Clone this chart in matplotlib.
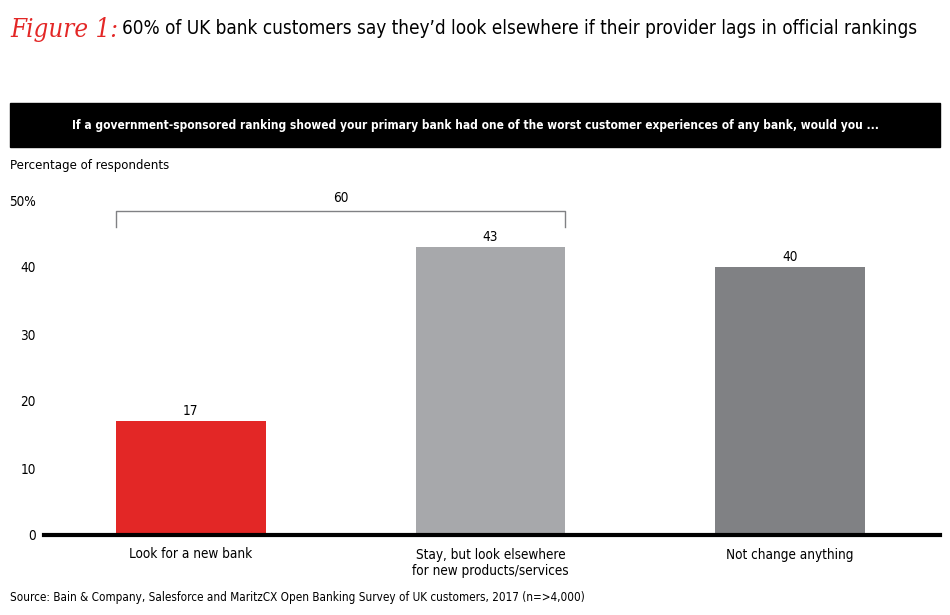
import matplotlib
matplotlib.use("Agg")
import matplotlib.pyplot as plt
from matplotlib.patches import Rectangle

plt.rcParams['font.family'] = ['DejaVu Sans']
plt.rcParams['font.stretch'] = 'condensed'

categories = ["Look for a new bank", "Stay, but look elsewhere\nfor new products/services", "Not change anything"]
values = [17, 43, 40]
colors = ["#E32726", "#A7A8AB", "#808184"]
yticks = [0, 10, 20, 30, 40, 50]
ytick_labels = ["0", "10", "20", "30", "40", "50%"]
bracket_total = 60

W, H = 950, 615
fig = plt.figure(figsize=(W/100, H/100), dpi=100)
renderer = fig.canvas.get_renderer()

def fx(px): return px / W
def fy(py): return 1 - py / H

def fit(t, target_px):
    w = t.get_window_extent(renderer).width
    t.set_fontsize(t.get_fontsize() * target_px / w)
    return t.get_fontsize()

ax = fig.add_axes([fx(44), fy(535), fx(940) - fx(44), fy(200) - fy(535)])
x = list(range(len(categories)))
ax.bar(x, values, width=0.5, color=colors, zorder=2)
ax.set_xlim(-0.49, 2.5)
ax.set_ylim(0, 50)
for s in ["top", "right", "left"]:
    ax.spines[s].set_visible(False)
ax.spines["bottom"].set_linewidth(3)
ax.spines["bottom"].set_color("black")
ax.set_yticks(yticks)
ax.set_xticks(x)

# measure body font size from a category label width
probe = fig.text(0, 0, "Not change anything", fontsize=11)
fs = fit(probe, 128)
probe.remove()

ax.set_yticklabels(ytick_labels, fontsize=fs)
ax.tick_params(axis="y", length=0, pad=6)
ax.tick_params(axis="x", length=0, pad=9)
ax.set_xticklabels(categories, fontsize=fs, linespacing=1.25)
for xi, v in zip(x, values):
    ax.text(xi, v + 0.5, f"{v}", ha="center", va="bottom", fontsize=fs)

# bracket for combined total
bl, br = 0 - 0.25, 1 + 0.25
yb = 48.4
ax.plot([bl, bl, br, br], [yb - 2.5, yb, yb, yb - 2.5], color="#808184", lw=1, clip_on=False)
ax.text((bl + br) / 2, yb + 0.8, f"{bracket_total}", ha="center", va="bottom", fontsize=fs)

# title
t1 = fig.text(fx(10), fy(30), "Figure 1:", color="#E32726", fontsize=19, style="italic",
              family="DejaVu Serif", va="center", ha="left")
fit(t1, 108)
t2 = fig.text(fx(122), fy(28), "60% of UK bank customers say they\u2019d look elsewhere if their provider lags in official rankings",
              fontsize=17, va="center", ha="left")
fit(t2, 795)

# header band
fig.patches.append(Rectangle((fx(10), fy(147)), fx(940) - fx(10), fy(103) - fy(147),
                             transform=fig.transFigure, color="black", zorder=0))
t3 = fig.text(fx(475), fy(126), "If a government-sponsored ranking showed your primary bank had one of the worst customer experiences of any bank, would you ...",
              color="white", fontsize=11.5, fontweight="bold", ha="center", va="center")
fit(t3, 810)

t4 = fig.text(fx(10), fy(166), "Percentage of respondents", fontsize=fs, ha="left", va="center")
fit(t4, 158)
t5 = fig.text(fx(10), fy(597), "Source: Bain & Company, Salesforce and MaritzCX Open Banking Survey of UK customers, 2017 (n=>4,000)",
              fontsize=10, ha="left", va="center")
fit(t5, 573)

fig.savefig("out.png", dpi=100)
